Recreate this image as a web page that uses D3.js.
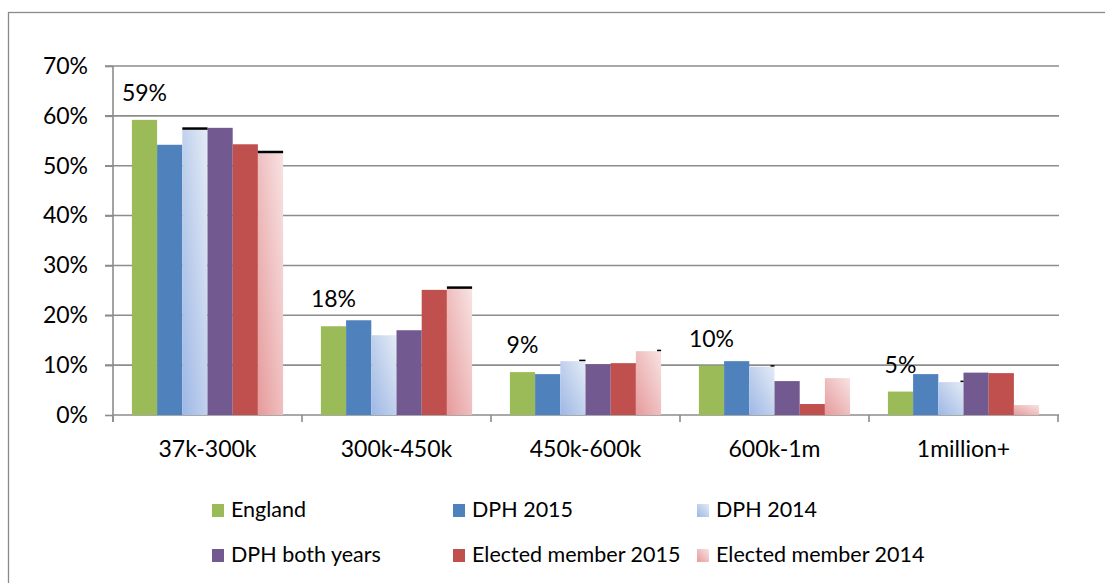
<!DOCTYPE html>
<html><head><meta charset="utf-8">
<script src="https://cdn.jsdelivr.net/npm/d3@7"></script>
<style>
html,body{margin:0;padding:0;background:#fff;}
svg{display:block;font-family:Lato,"Open Sans",sans-serif;}
</style></head>
<body><svg id="chart" width="1105" height="583"></svg>
<script>
const categories = ["37k-300k","300k-450k","450k-600k","600k-1m","1million+"];
const seriesNames = ["England","DPH 2015","DPH 2014","DPH both years","Elected member 2015","Elected member 2014"];
const england      = [59.2, 17.8, 8.6, 9.9, 4.7];
const dph2015      = [54.2, 19.0, 8.2, 10.8, 8.2];
const dph2014      = [57.2, 16.0, 10.8, 9.7, 6.6];
const dphBoth      = [57.6, 17.0, 10.2, 6.8, 8.5];
const elected2015  = [54.3, 25.1, 10.4, 2.2, 8.4];
const elected2014  = [52.5, 25.3, 12.8, 7.4, 2.0];
const englandLabels = ["59%","18%","9%","10%","5%"];
const yTicks = [0,10,20,30,40,50,60,70];
// small dark marks seen on top of the 2014 bars (fraction of bar width, from right)
const dph2014Caps = [1, 0, 0.25, 0.16, 0.12];
const elected2014Caps = [1, 1, 0.16, 0, 0];

const seriesValues = [england, dph2015, dph2014, dphBoth, elected2015, elected2014];
const fills = ["#9BBB59","#4F81BD","url(#gBlue)","#72598F","#C0504D","url(#gPink)"];

const svg = d3.select("#chart");
const defs = svg.append("defs");
function grad(id, dark, light){
  const g = defs.append("linearGradient").attr("id", id)
    .attr("x1",0).attr("y1",1).attr("x2",1).attr("y2",0);
  g.append("stop").attr("offset","0%").attr("stop-color",dark);
  g.append("stop").attr("offset","100%").attr("stop-color",light);
}
grad("gBlue","#9DB7E5","#E4EBF5");
grad("gPink","#E69A9B","#F8E3E3");

// outer frame
svg.append("rect").attr("x",8.5).attr("y",12.5).attr("width",1110).attr("height",600)
  .attr("fill","none").attr("stroke","#8a8a8a").attr("stroke-width",1.3);

const x0 = d3.scaleBand().domain(categories).range([113,1058]).paddingInner(0).paddingOuter(0);
const x1 = d3.scaleBand().domain(seriesNames).range([0,x0.bandwidth()]).paddingInner(0).paddingOuter(0.75);
const y = d3.scaleLinear().domain([0,70]).range([415,66]);

// gridlines
svg.append("g").selectAll("line").data(yTicks.slice(1)).join("line")
  .attr("x1",105).attr("x2",1059).attr("y1",d=>y(d)).attr("y2",d=>y(d))
  .attr("stroke","#8c8c8c").attr("stroke-width",1.6);

// y axis
const yAxis = svg.append("g").attr("transform","translate(113,0)")
  .call(d3.axisLeft(y).tickValues(yTicks).tickFormat(d=>d+"%").tickSize(8).tickPadding(17));
yAxis.select(".domain").remove();
yAxis.selectAll(".tick line").attr("stroke","#8c8c8c").attr("stroke-width",1.6);
yAxis.selectAll("text").attr("font-size",23).attr("fill","#000").attr("font-family","Lato");
svg.append("line").attr("x1",113).attr("x2",113).attr("y1",66).attr("y2",422)
  .attr("stroke","#8c8c8c").attr("stroke-width",1.6);

// x axis
const xAxis = svg.append("g").attr("transform","translate(0,415)")
  .call(d3.axisBottom(x0).tickSize(0).tickPadding(26));
xAxis.select(".domain").attr("stroke","#8c8c8c").attr("stroke-width",1.6).attr("d","M113,0H1059");
xAxis.selectAll("text").attr("font-size",23).attr("fill","#000").attr("font-family","Lato");
const bounds = categories.map(c=>x0(c)).concat([x0(categories[4])+x0.bandwidth()]);
svg.append("g").selectAll("line").data(bounds).join("line")
  .attr("x1",d=>d).attr("x2",d=>d).attr("y1",415).attr("y2",422)
  .attr("stroke","#8c8c8c").attr("stroke-width",1.6);

// bars
const groups = svg.append("g").selectAll("g").data(categories).join("g")
  .attr("transform",c=>`translate(${x0(c)},0)`);
groups.each(function(c,ci){
  const g = d3.select(this);
  seriesNames.forEach((s,si)=>{
    const v = seriesValues[si][ci];
    g.append("rect").attr("x",x1(s)).attr("width",x1.bandwidth())
      .attr("y",y(v)).attr("height",y(0)-y(v)).attr("fill",fills[si]);
  });
  const caps = [[seriesNames[2], dph2014[ci], dph2014Caps[ci]],[seriesNames[5], elected2014[ci], elected2014Caps[ci]]];
  caps.forEach(([s,v,f])=>{
    if(f>0){
      const w = x1.bandwidth()*f;
      g.append("rect").attr("x",x1(s)+x1.bandwidth()-w).attr("width",w)
        .attr("y",y(v)-(f>0.5?2.5:1.5)).attr("height",f>0.5?2.5:1.5).attr("fill","#000");
    }
  });
  g.append("text").attr("x",x1(seriesNames[0])+x1.bandwidth()/2).attr("y",y(england[ci])-19)
    .attr("text-anchor","middle").attr("font-size",23).attr("fill","#000").text(englandLabels[ci]);
});

// legend
const legCols = [212,453,697];
const legRows = [517,562];
const leg = svg.append("g").selectAll("g").data(seriesNames).join("g")
  .attr("transform",(d,i)=>`translate(${legCols[i%3]},${legRows[Math.floor(i/3)]})`);
leg.append("rect").attr("x",0).attr("y",-13).attr("width",12).attr("height",13).attr("fill",(d,i)=>fills[i]);
leg.append("text").attr("x",19).attr("y",0).attr("font-size",21.5).attr("fill","#000").text(d=>d);
</script></body></html>
